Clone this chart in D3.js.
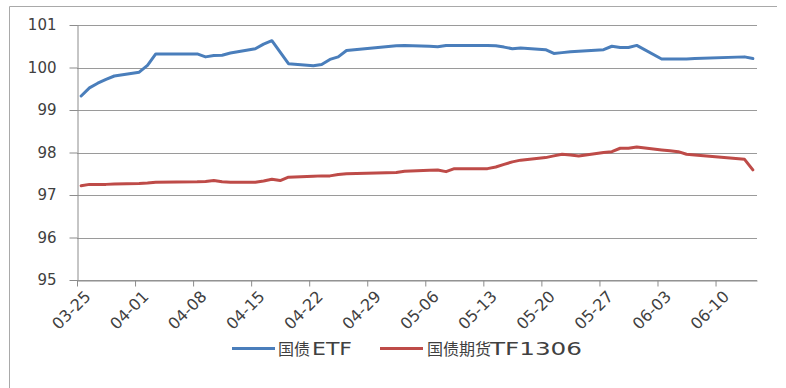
<!DOCTYPE html>
<html>
<head>
<meta charset="utf-8">
<script src="https://cdn.jsdelivr.net/npm/d3@7"></script>
<style>
  html, body { margin: 0; padding: 0; background: #fff; }
  svg { display: block; }
</style>
</head>
<body>
<svg id="chart" width="786" height="388"></svg>
<script>
// Trading days (2013) and closing values
const dates = [
  "2013-03-25","2013-03-26","2013-03-27","2013-03-28","2013-03-29",
  "2013-04-01","2013-04-02","2013-04-03",
  "2013-04-08","2013-04-09","2013-04-10","2013-04-11","2013-04-12",
  "2013-04-15","2013-04-16","2013-04-17","2013-04-18","2013-04-19",
  "2013-04-22","2013-04-23","2013-04-24","2013-04-25","2013-04-26",
  "2013-05-02","2013-05-03",
  "2013-05-06","2013-05-07","2013-05-08","2013-05-09","2013-05-10",
  "2013-05-13","2013-05-14","2013-05-15","2013-05-16","2013-05-17",
  "2013-05-20","2013-05-21","2013-05-22","2013-05-23","2013-05-24",
  "2013-05-27","2013-05-28","2013-05-29","2013-05-30","2013-05-31",
  "2013-06-03","2013-06-04","2013-06-05","2013-06-06","2013-06-07",
  "2013-06-13","2013-06-14"
];

const etfValues = [
  99.33, 99.52, 99.63, 99.72, 99.80,
  99.89, 100.05, 100.32,
  100.32, 100.25, 100.28, 100.29, 100.34,
  100.44, 100.55, 100.63, 100.36, 100.09,
  100.04, 100.07, 100.19, 100.25, 100.40,
  100.51, 100.52,
  100.50, 100.49, 100.52, 100.52, 100.52,
  100.52, 100.51, 100.48, 100.44, 100.46,
  100.42, 100.33, 100.35, 100.37, 100.38,
  100.42, 100.50, 100.47, 100.47, 100.52,
  100.20, 100.20, 100.20, 100.20, 100.21,
  100.25, 100.21
];

const tfValues = [
  97.22, 97.25, 97.25, 97.25, 97.26,
  97.27, 97.28, 97.30,
  97.31, 97.32, 97.34, 97.31, 97.30,
  97.30, 97.33, 97.37, 97.34, 97.42,
  97.44, 97.45, 97.45, 97.48, 97.50,
  97.53, 97.56,
  97.58, 97.59, 97.55, 97.62, 97.62,
  97.62, 97.66, 97.72, 97.78, 97.82,
  97.88, 97.92, 97.96, 97.94, 97.92,
  98.00, 98.02, 98.10, 98.10, 98.13,
  98.06, 98.04, 98.02, 97.96, 97.94,
  97.84, 97.59
];

const yTickValues = [95, 96, 97, 98, 99, 100, 101];
const xTickDates = [
  "2013-03-25","2013-04-01","2013-04-08","2013-04-15","2013-04-22",
  "2013-04-29","2013-05-06","2013-05-13","2013-05-20","2013-05-27",
  "2013-06-03","2013-06-10"
];
const axisStart = "2013-03-25";
const axisEnd = "2013-06-15";
const seriesNames = ["国债ETF", "国债期货TF1306"];
const seriesColors = ["#4a7ebb", "#be4b48"];

const parse = d3.utcParse("%Y-%m-%d");
const svg = d3.select("#chart");

const plot = { left: 77, right: 757, top: 25, bottom: 280 };

const x = d3.scaleUtc()
  .domain([parse(axisStart), parse(axisEnd)])
  .range([plot.left, plot.right]);
const y = d3.scaleLinear()
  .domain([95, 101])
  .range([plot.bottom, plot.top]);

// chart-area frame (top and left edges)
svg.append("path")
  .attr("d", "M9.5,388 V6.5 H777")
  .attr("fill", "none")
  .attr("stroke", "#a9a9a9")
  .attr("stroke-width", 1);

// horizontal gridlines
svg.append("g")
  .selectAll("line")
  .data(yTickValues)
  .join("line")
  .attr("x1", plot.left)
  .attr("x2", plot.right)
  .attr("y1", d => Math.round(y(d)) + 0.5)
  .attr("y2", d => Math.round(y(d)) + 0.5)
  .attr("stroke", "#9a9a9a")
  .attr("stroke-width", 1);

// y axis
const yAxis = svg.append("g")
  .attr("transform", `translate(${plot.left + 0.5},0)`)
  .call(d3.axisLeft(y).tickValues(yTickValues).tickSize(8).tickSizeOuter(0).tickPadding(13).tickFormat(d3.format("d")));
yAxis.select(".domain").attr("stroke", "#8c8c8c");
yAxis.selectAll(".tick line").attr("stroke", "#8c8c8c");
yAxis.selectAll("text")
  .attr("font-family", "'DejaVu Sans', sans-serif")
  .attr("font-size", 15)
  .attr("fill", "#404040");

// x axis
const fmt = d3.utcFormat("%m-%d");
const xAxis = svg.append("g")
  .attr("transform", `translate(0,${plot.bottom + 0.5})`)
  .call(d3.axisBottom(x).tickValues(xTickDates.map(parse)).tickSize(6).tickSizeOuter(0).tickFormat(fmt));
xAxis.select(".domain").attr("stroke", "#8c8c8c");
xAxis.selectAll(".tick line").attr("stroke", "#8c8c8c");
xAxis.selectAll("text")
  .attr("font-family", "'DejaVu Sans', sans-serif")
  .attr("font-size", 16)
  .attr("fill", "#404040")
  .attr("text-anchor", "end")
  .attr("x", 0)
  .attr("y", 0)
  .attr("dy", "0.72em")
  .attr("transform", "translate(6,9) rotate(-45)");

// series lines, each point centred in its day
const mid = s => d3.utcHour.offset(parse(s), 12);
const line = d3.line()
  .x(d => x(mid(d.date)))
  .y(d => y(d.value));

[etfValues, tfValues].forEach((vals, i) => {
  const pts = dates.map((d, j) => ({ date: d, value: vals[j] }));
  svg.append("path")
    .datum(pts)
    .attr("d", line)
    .attr("fill", "none")
    .attr("stroke", seriesColors[i])
    .attr("stroke-width", 3)
    .attr("stroke-linejoin", "round")
    .attr("stroke-linecap", "round");
});

// legend: swatch, Chinese part, then the stretched Latin/digit part
const legendItems = [
  { x0: 232, x1: 275, tx: 278, lx: 312, lw: 40 },
  { x0: 380, x1: 423, tx: 427, lx: 490, lw: 92 }
];
const legend = svg.append("g");
seriesNames.forEach((name, i) => {
  const it = legendItems[i];
  legend.append("line")
    .attr("x1", it.x0).attr("x2", it.x1)
    .attr("y1", 348.5).attr("y2", 348.5)
    .attr("stroke", seriesColors[i])
    .attr("stroke-width", 3);
  const m = name.match(/^([^A-Za-z0-9]+)(.*)$/);
  legend.append("text")
    .attr("x", it.tx)
    .attr("y", 355)
    .attr("fill", "#404040")
    .attr("font-family", "'Noto Sans CJK SC', sans-serif")
    .attr("font-size", 16)
    .text(m[1]);
  legend.append("text")
    .attr("x", it.lx)
    .attr("y", 355)
    .attr("fill", "#404040")
    .attr("font-family", "'DejaVu Sans', sans-serif")
    .attr("font-size", 17)
    .attr("textLength", it.lw)
    .attr("lengthAdjust", "spacingAndGlyphs")
    .text(m[2]);
});
</script>
</body>
</html>
